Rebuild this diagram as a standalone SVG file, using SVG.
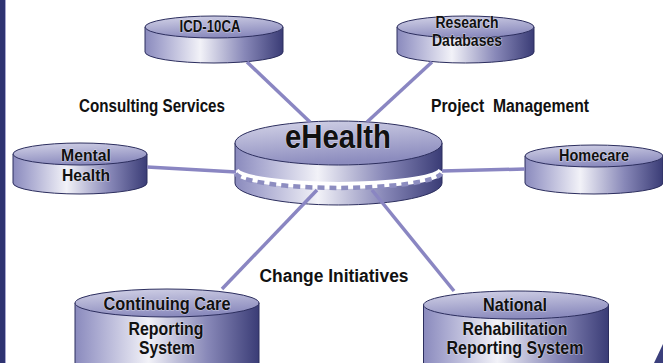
<svg xmlns="http://www.w3.org/2000/svg" width="663" height="363" viewBox="0 0 663 363">
<defs>
<linearGradient id="side" x1="0" y1="0" x2="1" y2="0">
<stop offset="0" stop-color="#8a8abd"/>
<stop offset="0.12" stop-color="#a9a9d0"/>
<stop offset="0.4" stop-color="#f2f2f8"/>
<stop offset="0.72" stop-color="#8888b8"/>
<stop offset="1" stop-color="#3a3c76"/>
</linearGradient>
<linearGradient id="top" x1="0" y1="0" x2="0.3" y2="1">
<stop offset="0" stop-color="#d4d4e8"/>
<stop offset="1" stop-color="#8c8cbe"/>
</linearGradient>
<linearGradient id="lightline" x1="0" y1="0" x2="0" y2="1">
<stop offset="0" stop-color="#c4c4dc"/>
<stop offset="1" stop-color="#9a98c8"/>
</linearGradient>
</defs>
<style>
.side{fill:url(#side);stroke:#2c2e5e;stroke-width:1}
.top{fill:url(#top);stroke:#2c2e5e;stroke-width:1}
.lbl{font-family:"Liberation Sans",Arial,sans-serif;font-weight:bold;fill:#111;text-anchor:middle;stroke:#eeeef6;stroke-width:1.2;stroke-opacity:.6;paint-order:stroke}
.free{font-family:"Liberation Sans",Arial,sans-serif;font-weight:bold;fill:#111;text-anchor:middle}
.conn{stroke:#8a86c2;stroke-width:3.5;fill:none}
</style>
<rect width="663" height="363" fill="#ffffff"/>
<rect x="0" y="0" width="5" height="363" fill="#2e3371"/>
<rect x="5" y="0" width="1" height="363" fill="#a7a7cf"/>
<polygon points="654,363 663,344 663,363" fill="#3b3f7c"/>

<g id="icd10ca">
<path class="side" d="M145,27 L145,52 A69,11 0 0 0 283,52 L283,27 Z"/>
<ellipse class="top" cx="214" cy="27" rx="69" ry="11"/>
<text class="lbl" x="210" y="32" font-size="17" textLength="61" lengthAdjust="spacingAndGlyphs">ICD-10CA</text>
</g>

<g id="research">
<path class="side" d="M397,27 L397,52 A68.5,11 0 0 0 534,52 L534,27 Z"/>
<ellipse class="top" cx="465.5" cy="27" rx="68.5" ry="11"/>
<text class="lbl" x="467" y="28" font-size="16" textLength="63" lengthAdjust="spacingAndGlyphs">Research</text>
<text class="lbl" x="467" y="46" font-size="16" textLength="70" lengthAdjust="spacingAndGlyphs">Databases</text>
</g>

<g id="mental">
<path class="side" d="M13,154 L13,183 A67,11 0 0 0 147,183 L147,154 Z"/>
<ellipse class="top" cx="80" cy="154" rx="67" ry="11"/>
<text class="lbl" x="86" y="161" font-size="17" textLength="50" lengthAdjust="spacingAndGlyphs">Mental</text>
<text class="lbl" x="86" y="181" font-size="17" textLength="48" lengthAdjust="spacingAndGlyphs">Health</text>
</g>

<g id="homecare">
<path class="side" d="M525,156 L525,183 A69,11 0 0 0 663,183 L663,156 Z"/>
<ellipse class="top" cx="594" cy="156" rx="69" ry="11"/>
<text class="lbl" x="594" y="161" font-size="17" textLength="70" lengthAdjust="spacingAndGlyphs">Homecare</text>
</g>

<g id="ehealth">
<path class="side" d="M235,143 L235,183 A103.5,22 0 0 0 442,183 L442,143 Z"/>
<path d="M235.5,171 A103.5,16 0 0 0 441.5,171" fill="none" stroke="#ffffff" stroke-width="7"/>
<path d="M235.5,173.5 A103.5,16 0 0 0 441.5,173.5" fill="none" stroke="#8d8dc0" stroke-width="4.5" stroke-dasharray="7 5"/>
<ellipse class="top" cx="338.5" cy="143" rx="103.5" ry="22"/>
<text class="lbl" x="338" y="148" font-size="34" textLength="106" lengthAdjust="spacingAndGlyphs">eHealth</text>
</g>

<g id="continuing">
<path class="side" d="M75,303 L75,380 L259,380 L259,303 Z"/>
<ellipse class="top" cx="167" cy="303" rx="92" ry="14"/>
<text class="lbl" x="167" y="310" font-size="18.5" textLength="127" lengthAdjust="spacingAndGlyphs">Continuing Care</text>
<text class="lbl" x="166" y="335" font-size="18.5" textLength="75" lengthAdjust="spacingAndGlyphs">Reporting</text>
<text class="lbl" x="167" y="354" font-size="18.5" textLength="56" lengthAdjust="spacingAndGlyphs">System</text>
</g>

<g id="national">
<path class="side" d="M423.5,305 L423.5,380 L608.5,380 L608.5,305 Z"/>
<ellipse class="top" cx="516" cy="305" rx="92.5" ry="14"/>
<text class="lbl" x="515" y="311" font-size="18.5" textLength="64" lengthAdjust="spacingAndGlyphs">National</text>
<text class="lbl" x="515" y="335" font-size="18.5" textLength="105" lengthAdjust="spacingAndGlyphs">Rehabilitation</text>
<text class="lbl" x="515" y="354" font-size="18.5" textLength="137" lengthAdjust="spacingAndGlyphs">Reporting System</text>
</g>

<g id="connectors">
<line class="conn" x1="247" y1="62" x2="310" y2="122"/>
<line class="conn" x1="432" y1="62" x2="367" y2="122" stroke="url(#lightline)"/>
<line class="conn" x1="147" y1="167" x2="236" y2="172"/>
<line class="conn" x1="442" y1="171" x2="525" y2="169"/>
<line class="conn" x1="222" y1="289" x2="317" y2="190"/>
<line class="conn" x1="454" y1="291" x2="372" y2="190"/>
</g>

<g id="labels">
<text class="free" x="152" y="112" font-size="18" textLength="146" lengthAdjust="spacingAndGlyphs">Consulting Services</text>
<text class="free" x="510" y="112" font-size="18" textLength="158" lengthAdjust="spacingAndGlyphs" xml:space="preserve">Project  Management</text>
<text class="free" x="334" y="282" font-size="18" textLength="149" lengthAdjust="spacingAndGlyphs">Change Initiatives</text>
</g>
</svg>
